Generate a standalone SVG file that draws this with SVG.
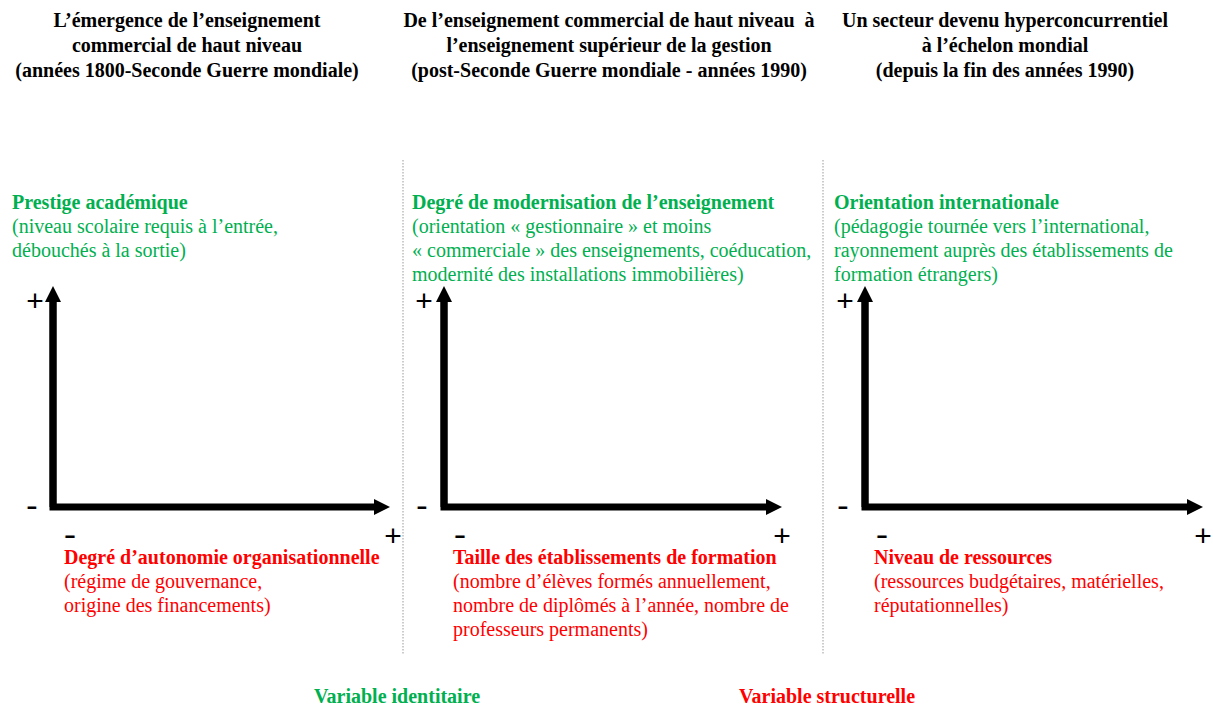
<svg xmlns="http://www.w3.org/2000/svg" width="1213" height="706" viewBox="0 0 1213 706">
<style>
.h{font-family:"Liberation Serif",serif;font-weight:bold;font-size:20px;fill:#000;text-anchor:middle}
.g{font-family:"Liberation Serif",serif;font-size:20px;fill:#00b050}
.r{font-family:"Liberation Serif",serif;font-size:20px;fill:#ff0000}
.b{font-weight:bold}
.s{font-family:"Liberation Sans",sans-serif;font-size:30px;fill:#000;text-anchor:middle}
.m{font-family:"Liberation Sans",sans-serif;font-weight:bold;font-size:20px;fill:#000;text-anchor:middle}
.ax{stroke:#000;stroke-width:7;fill:none}
.sep{stroke:#999;stroke-width:1;stroke-dasharray:1.5 1.5}
.foot{font-family:"Liberation Serif",serif;font-weight:bold;font-size:20px;text-anchor:middle}
</style>
<defs>
<marker id="ah" markerUnits="userSpaceOnUse" markerWidth="16" markerHeight="16" refX="2" refY="8" orient="auto" viewBox="0 0 16 16"><path d="M0,0 L16,8 L0,16 Z" fill="#000"/></marker>
</defs>
<rect width="1213" height="706" fill="#fff"/>
<g id="headers">
<text class="h" x="187" y="27">L’émergence de l’enseignement</text>
<text class="h" x="187" y="52">commercial de haut niveau</text>
<text class="h" x="187" y="77">(années 1800-Seconde Guerre mondiale)</text>
<text class="h" x="609" y="27" xml:space="preserve">De l’enseignement commercial de haut niveau  à</text>
<text class="h" x="609" y="52">l’enseignement supérieur de la gestion</text>
<text class="h" x="609" y="77">(post-Seconde Guerre mondiale - années 1990)</text>
<text class="h" x="1005" y="27">Un secteur devenu hyperconcurrentiel</text>
<text class="h" x="1005" y="52">à l’échelon mondial</text>
<text class="h" x="1005" y="77">(depuis la fin des années 1990)</text>
</g>
<g id="separators">
<line class="sep" x1="403" y1="160" x2="403" y2="655"/>
<line class="sep" x1="823" y1="160" x2="823" y2="655"/>
</g>
<g id="connectors">
<polyline class="ax" points="53,300 53,507 376,507" marker-end="url(#ah)"/>
<line class="ax" x1="53" y1="507" x2="53" y2="300" marker-end="url(#ah)"/>
<polyline class="ax" points="444,300 444,507 768,507" marker-end="url(#ah)"/>
<line class="ax" x1="444" y1="507" x2="444" y2="300" marker-end="url(#ah)"/>
<polyline class="ax" points="865,300 865,507 1189,507" marker-end="url(#ah)"/>
<line class="ax" x1="865" y1="507" x2="865" y2="300" marker-end="url(#ah)"/>
</g>
<g id="panel1">
<text class="g" x="12" y="209"><tspan class="b">Prestige académique</tspan><tspan x="12" dy="24">(niveau scolaire requis à l’entrée,</tspan><tspan x="12" dy="24">débouchés à la sortie)</tspan></text>
<text class="s" x="35" y="311">+</text>
<text class="m" transform="translate(32,513) scale(1.7,1)">-</text>
<text class="m" transform="translate(70,541.5) scale(1.8,1)">-</text>
<text class="s" x="393" y="546">+</text>
<text class="r" x="64" y="564"><tspan class="b">Degré d’autonomie organisationnelle</tspan><tspan x="64" dy="24">(régime de gouvernance,</tspan><tspan x="64" dy="24">origine des financements)</tspan></text>
</g>
<g id="panel2">
<text class="g" x="412" y="209"><tspan class="b">Degré de modernisation de l’enseignement</tspan><tspan x="412" dy="24">(orientation « gestionnaire » et moins</tspan><tspan x="412" dy="24">« commerciale » des enseignements, coéducation,</tspan><tspan x="412" dy="24">modernité des installations immobilières)</tspan></text>
<text class="s" x="424" y="311">+</text>
<text class="m" transform="translate(422,513) scale(1.7,1)">-</text>
<text class="m" transform="translate(460,541.5) scale(1.8,1)">-</text>
<text class="s" x="782" y="546">+</text>
<text class="r" x="453" y="564"><tspan class="b">Taille des établissements de formation</tspan><tspan x="453" dy="24">(nombre d’élèves formés annuellement,</tspan><tspan x="453" dy="24">nombre de diplômés à l’année, nombre de</tspan><tspan x="453" dy="24">professeurs permanents)</tspan></text>
</g>
<g id="panel3">
<text class="g" x="834" y="209"><tspan class="b">Orientation internationale</tspan><tspan x="834" dy="24">(pédagogie tournée vers l’international,</tspan><tspan x="834" dy="24">rayonnement auprès des établissements de</tspan><tspan x="834" dy="24">formation étrangers)</tspan></text>
<text class="s" x="845" y="311">+</text>
<text class="m" transform="translate(843,513) scale(1.7,1)">-</text>
<text class="m" transform="translate(882,541.5) scale(1.8,1)">-</text>
<text class="s" x="1203" y="546">+</text>
<text class="r" x="874" y="564"><tspan class="b">Niveau de ressources</tspan><tspan x="874" dy="24">(ressources budgétaires, matérielles,</tspan><tspan x="874" dy="24">réputationnelles)</tspan></text>
</g>
<g id="legend">
<text class="foot" x="397" y="703" fill="#00b050">Variable identitaire</text>
<text class="foot" x="827" y="703" fill="#ff0000">Variable structurelle</text>
</g>
</svg>
